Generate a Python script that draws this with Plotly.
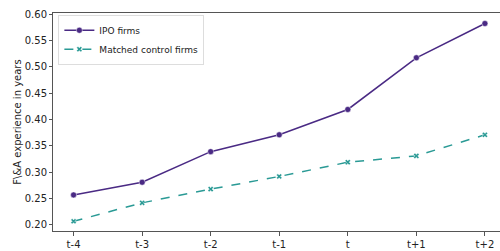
import plotly.graph_objects as go

periods = ["t-4", "t-3", "t-2", "t-1", "t", "t+1", "t+2"]
ipo_firms = [0.257, 0.281, 0.339, 0.371, 0.419, 0.517, 0.582]
control_firms = [0.207, 0.242, 0.268, 0.292, 0.319, 0.331, 0.371]
y_ticks = [0.20, 0.25, 0.30, 0.35, 0.40, 0.45, 0.50, 0.55, 0.60]

purple = "#4a2a84"
teal = "#2a9a95"

fig = go.Figure()
fig.add_trace(go.Scatter(
    x=list(range(len(periods))), y=ipo_firms, name="IPO firms",
    mode="lines+markers",
    line=dict(color=purple, width=1.5),
    marker=dict(symbol="circle", size=6, color=purple, line=dict(width=0.5, color="white")),
))
fig.add_trace(go.Scatter(
    x=list(range(len(periods))), y=control_firms, name="Matched control firms",
    mode="lines+markers",
    line=dict(color=teal, width=1.5, dash="dash"),
    marker=dict(symbol="x", size=5, color=teal, line=dict(width=0.5, color="white")),
))

fig.update_layout(
    width=500, height=251,
    margin=dict(l=53, r=0, t=13, b=20),
    paper_bgcolor="white", plot_bgcolor="white",
    font=dict(family="DejaVu Sans", size=10, color="#222"),
    showlegend=True,
    legend=dict(x=0.012, y=0.992, xanchor="left", yanchor="top",
                bgcolor="rgba(255,255,255,0.8)", bordercolor="#dddddd", borderwidth=1,
                font=dict(size=9), tracegroupgap=0, itemwidth=30),
    xaxis=dict(
        range=[-0.3, 6.22], tickmode="array", tickvals=list(range(len(periods))),
        ticktext=periods, showgrid=False, zeroline=False,
        showline=True, linecolor="#555", linewidth=1, mirror=True,
        ticks="outside", ticklen=3.5, tickcolor="#555",
    ),
    yaxis=dict(
        range=[0.1886, 0.6019], tickmode="array", tickvals=y_ticks,
        ticktext=[f"{v:.2f}" for v in y_ticks], showgrid=False, zeroline=False,
        showline=True, linecolor="#555", linewidth=1, mirror=True,
        ticks="outside", ticklen=3, tickcolor="#555",
        title=dict(text="F\\&A experience in years", font=dict(size=10), standoff=1),
    ),
)

fig.write_html("out.html", config={"displayModeBar": False},
               post_script="document.body.style.margin='0';document.body.style.overflow='hidden';")
